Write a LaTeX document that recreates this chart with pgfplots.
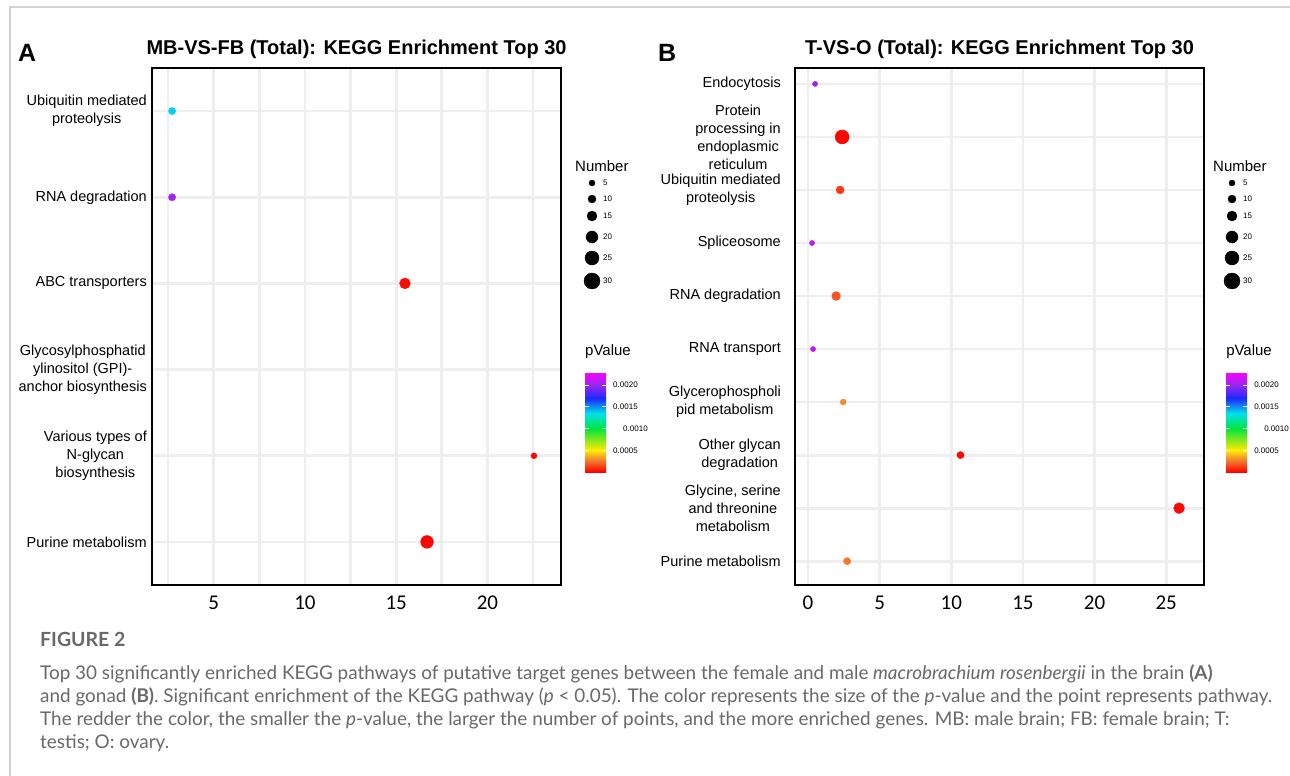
\documentclass[border=0pt]{standalone}
\usepackage{pgfplots}
\pgfplotsset{compat=1.18}
\usepackage{pgfplotstable}
\usepackage{fontspec}
\setmainfont{Liberation Sans}
\newfontfamily\tickfont{Carlito}
\newfontfamily\capfont{Lato}

\definecolor{gridgray}{RGB}{238,238,238}
\definecolor{capgray}{RGB}{105,105,105}
\definecolor{framegray}{RGB}{210,210,210}

% x = position on the axis, y = category index, n = Number, p = pValue
\pgfplotstableread{
x y n p
2.72 1 8 0.00138
2.72 2 8 0.00205
15.48 3 17 0.00002
22.55 5 5 0.00002
16.69 6 22 0.00001
}\brain

\pgfplotstableread{
x y n p
0.49 1 3 0.00200
2.38 2 25 0.00001
2.24 3 10 0.00012
0.28 4 3 0.00212
1.96 5 12 0.00018
0.35 6 3 0.00212
2.45 7 5 0.00030
10.64 8 8 0.00002
25.90 9 17 0.00001
2.73 10 8 0.00026
}\gonad

% size keys (page pixels)
\pgfplotstableread{
x y n
592 -183 5
592 -199 10
592 -216 15
592 -237 20
592 -258 25
592 -281 30
1232 -183 5
1232 -199 10
1232 -216 15
1232 -237 20
1232 -258 25
1232 -281 30
}\sizekey

\pgfplotsset{
  /pgf/number format/assume math mode=true,
  colormap={pval}{rgb255(0)=(255,0,0) rgb255(6)=(240,140,50) rgb255(10)=(255,235,0)
    rgb255(20)=(0,230,60) rgb255(27)=(0,225,235) rgb255(34)=(30,40,255)
    rgb255(40)=(150,40,240) rgb255(46)=(255,0,255)},
  kegg/.style={
    scale only axis, width=409pt, height=517pt, anchor=north west,
    y dir=reverse,
    axis line style={line width=2.4pt},
    grid=both,
    major grid style={gridgray, line width=2.8pt},
    minor grid style={gridgray, line width=2.8pt},
    major tick length=0pt, minor tick length=0pt,
    xtick pos=bottom, ytick pos=left,
    xticklabel style={font=\tickfont\fontsize{21}{21}\selectfont, inner sep=0pt, yshift=-11pt},
    yticklabel style={font=\fontsize{14.5}{18}\selectfont, align=center, inner sep=0pt},
    title style={font=\bfseries\fontsize{20}{22}\selectfont, at={(0.5,1)}, anchor=south, inner sep=0pt, yshift=3pt},
    colormap name=pval, point meta min=0, point meta max=0.0023,
    colorbar,
    colorbar/width=21pt,
    colorbar style={
      at={(parent axis.north east)}, anchor=north west,
      scale only axis, width=21pt, height=100pt,
      axis on top,
      axis line style={draw=none},
      ytick={0.0005,0.001,0.0015,0.002},
      yticklabels={0.0005,\hspace*{10pt}0.0010,0.0015,0.0020},
      scaled y ticks=false,
      ytick pos=both, yticklabel pos=right,
      major tick length=4pt, tick align=inside,
      major tick style={white, line width=0.8pt},
      yticklabel style={font=\fontsize{8}{9}\selectfont, inner sep=0pt, xshift=7pt},
      title={pValue},
      title style={font=\fontsize{15}{17}\selectfont, at={(0,1)}, anchor=south west, inner sep=0pt, yshift=7pt},
    },
  },
  bubble/.style={
    scatter, only marks, mark=*,
    point meta=\thisrow{p},
    visualization depends on={\thisrow{n} \as \nsize},
    scatter/use mapped color={draw=mapped color, fill=mapped color},
    scatter/@pre marker code/.append style={/tikz/mark size={2+0.2*\nsize}},
  },
}

\begin{document}
\begin{tikzpicture}
\fill[white] (0,0) rectangle (1290pt,-776pt);
\useasboundingbox (0,0) rectangle (1290pt,-776pt);

% panel A
\begin{axis}[kegg, at={(152pt,-68pt)},
  title={MB-VS-FB (Total): KEGG Enrichment Top 30},
  xmin=1.62, xmax=24.03, ymin=0.5, ymax=6.5,
  xtick={5,10,15,20}, minor xtick={2.5,7.5,12.5,17.5,22.5},
  ytick={1,2,3,4,5,6},
  yticklabels={{Ubiquitin mediated\\proteolysis}, RNA degradation, ABC transporters,
    {Glycosylphosphatid\\ylinositol (GPI)-\\anchor biosynthesis},
    {Various types of\\N-glycan\\biosynthesis}, Purine metabolism},
  yticklabel style={xshift=-5pt},
  colorbar style={xshift=15.5pt, yshift=-304pt},
]
\addplot[bubble] table[x=x, y=y] {\brain};
\end{axis}

% panel B
\begin{axis}[kegg, at={(795pt,-68pt)},
  title={T-VS-O (Total): KEGG Enrichment Top 30},
  xmin=-0.91, xmax=27.64, ymin=0.7, ymax=10.45,
  xtick={0,5,10,15,20,25},
  ytick={1,2,3,4,5,6,7,8,9,10},
  yticklabels={Endocytosis, {Protein\\processing in\\endoplasmic\\reticulum},
    {Ubiquitin mediated\\proteolysis}, Spliceosome, RNA degradation, RNA transport,
    {Glycerophospholi\\pid metabolism}, {Other glycan\\degradation},
    {Glycine, serine\\and threonine\\metabolism}, Purine metabolism},
  yticklabel style={xshift=-14pt},
  colorbar style={xshift=13.5pt, yshift=-304pt},
]
\addplot[bubble] table[x=x, y=y] {\gonad};
\end{axis}

% page overlay: size keys, panel letters, caption
\begin{axis}[at={(0pt,0pt)}, anchor=north west, x=1pt, y=1pt,
  xmin=0, xmax=1290, ymin=-776, ymax=0, hide axis, clip=false]
\addplot[scatter, only marks, mark=*, point meta=\thisrow{n},
  visualization depends on={\thisrow{n} \as \nsize},
  scatter/use mapped color={draw=black, fill=black},
  scatter/@pre marker code/.append style={/tikz/mark size={2+0.2*\nsize}}]
  table[x=x, y=y] {\sizekey};
\addplot[draw=none, mark=none, point meta=\thisrow{n},
  nodes near coords,
  nodes near coords style={anchor=west, inner sep=0pt, xshift=11pt, font=\fontsize{8}{9}\selectfont, text=black}]
  table[x=x, y=y] {\sizekey};
\draw[framegray, line width=1.5pt] (axis cs:10,-776) -- (axis cs:10,-7) -- (axis cs:1290,-7);
\node[anchor=base west, inner sep=0pt, font=\fontsize{15}{15}\selectfont] at (axis cs:575,-171) {Number};
\node[anchor=base west, inner sep=0pt, font=\fontsize{15}{15}\selectfont] at (axis cs:1213,-171) {Number};
\node[anchor=base west, inner sep=0pt, font=\bfseries\fontsize{25}{25}\selectfont] at (axis cs:18,-62) {A};
\node[anchor=base west, inner sep=0pt, font=\bfseries\fontsize{25}{25}\selectfont] at (axis cs:658,-62) {B};
\begin{scope}[every node/.style={anchor=base west, inner sep=0pt, text=capgray}]
\node[font=\capfont\bfseries\fontsize{19.5}{19.5}\selectfont] at (axis cs:40,-646) {FIGURE 2};
\node[font=\capfont\fontsize{18.9}{18.9}\selectfont] at (axis cs:40,-679) {Top 30 significantly enriched KEGG pathways of putative target genes between the female and male \textit{macrobrachium rosenbergii} in the brain \textbf{(A)}};
\node[font=\capfont\fontsize{18.9}{18.9}\selectfont] at (axis cs:40,-702) {and gonad \textbf{(B)}. Significant enrichment of the KEGG pathway (\textit{p} < 0.05). The color represents the size of the \textit{p}-value and the point represents pathway.};
\node[font=\capfont\fontsize{18.9}{18.9}\selectfont] at (axis cs:40,-725) {The redder the color, the smaller the \textit{p}-value, the larger the number of points, and the more enriched genes. MB: male brain; FB: female brain; T:};
\node[font=\capfont\fontsize{18.9}{18.9}\selectfont] at (axis cs:40,-748) {testis; O: ovary.};
\end{scope}
\end{axis}
\end{tikzpicture}
\end{document}
